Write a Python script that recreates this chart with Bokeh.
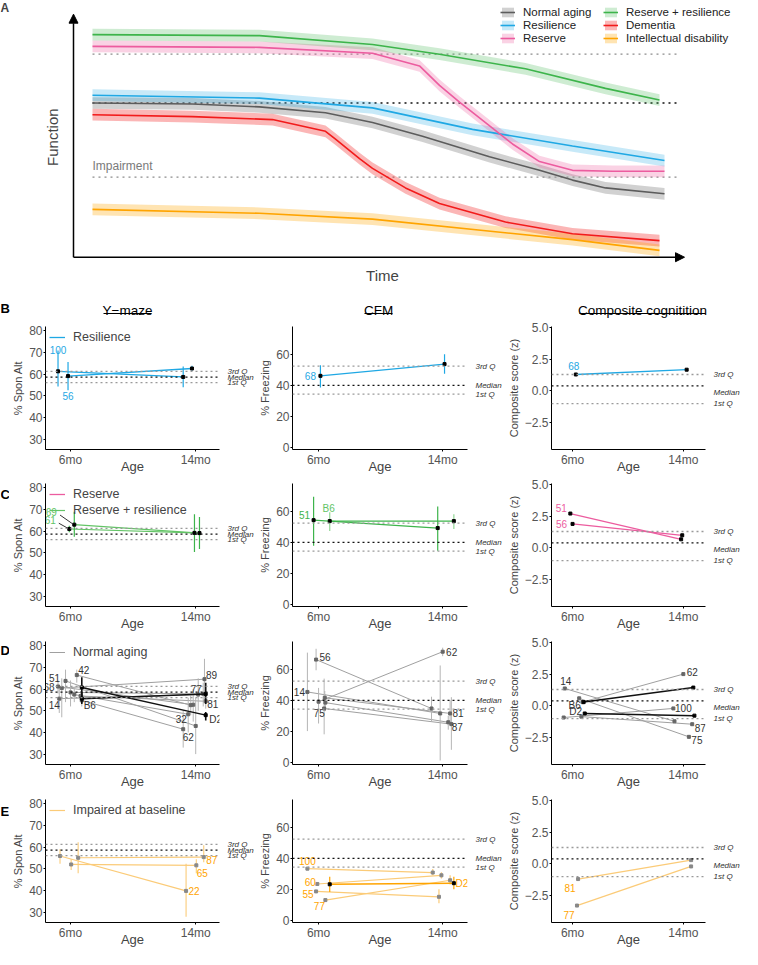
import math
from bokeh.plotting import figure
from bokeh.models import (Range1d, FixedTicker, Label, Arrow, NormalHead, Legend,
                          LegendItem, ColumnDataSource, Span, LinearAxis, Spacer)
from bokeh.layouts import column, row
from bokeh.core.properties import value
from bokeh.embed import file_html
from bokeh.resources import INLINE

FONT = "Liberation Sans"

# ---------------- Panel A: schematic trajectories (time px, function px) ----------------
A_NORMAL_T = [19, 119, 186, 252, 299, 349, 416, 466, 499, 532, 591]
A_NORMAL_F = [158, 157, 154, 148, 138, 124, 103, 89, 79, 71, 65]
A_RESIL_T = [19, 186, 299, 399, 499, 591]
A_RESIL_F = [166, 163, 153, 131, 114, 99]
A_RESERVE_T = [19, 186, 299, 346, 366, 386, 412, 439, 466, 499, 539, 591]
A_RESERVE_F = [216, 215, 209, 196, 176, 159, 138, 116, 98, 89, 88, 88]
A_RR_T = [19, 186, 299, 366, 452, 532, 586]
A_RR_F = [228, 227, 218, 208, 193, 173, 161]
A_DEM_T = [19, 119, 199, 252, 262, 286, 299, 332, 366, 432, 499, 586]
A_DEM_F = [146, 144, 141, 129, 121, 101, 91, 71, 55, 36, 24, 17]
A_ID_T = [19, 186, 299, 499, 586]
A_ID_F = [49, 45, 39, 18, 7]
A_LEVELS = [208, 158, 82]          # upper, middle (median), impairment
A_LEVEL_COLORS = ["#8c8c8c", "#111111", "#8c8c8c"]

# ---------------- Quartile reference values ----------------
YM_Q = [56.1, 58.6, 61.3]     # 1st Q, Median, 3rd Q
CFM_Q = [34.3, 40.0, 52.4]
COMP_Q = [-1.0, 0.4, 1.3]
Q_NAMES = ["1st Q", "Median", "3rd Q"]

# ---------------- B: Resilience ----------------
B_YM_ID = ["100", "56"]
B_YM_6 = [61.3, 59.1]
B_YM_14 = [58.7, 62.6]
B_YM_E6 = [(54.3, 70.9), (52.6, 65.6)]
B_YM_E14 = [(54.0, 63.5), (61.7, 63.9)]

B_CFM_ID = ["68"]
B_CFM_6 = [46.1]
B_CFM_14 = [53.7]
B_CFM_E6 = [(38.5, 53.0)]
B_CFM_E14 = [(47.4, 60.0)]

B_CMP_ID = ["68"]
B_CMP_6 = [1.30]
B_CMP_14 = [1.68]

# ---------------- C: Reserve / Reserve + resilience ----------------
C_YM_ID = ["61", "69"]
C_YM_6 = [61.0, 63.0]
C_YM_14 = [59.2, 59.1]
C_YM_E6 = [(59.5, 62.5), (57.4, 69.0)]
C_YM_E14 = [(50.4, 67.8), (51.7, 66.5)]

C_CFM_ID = ["51", "B6"]
C_CFM_6 = [54.3, 53.7]
C_CFM_14 = [49.2, 53.7]
C_CFM_E6 = [(37.8, 69.5), (47.3, 59.4)]
C_CFM_E14 = [(34.6, 63.2), (48.6, 58.1)]

C_CMP_ID = ["51", "56"]
C_CMP_6 = [2.72, 1.90]
C_CMP_14 = [0.68, 1.00]

# ---------------- D: Normal aging ----------------
D_YM_ID = ["68", "51", "42", "14", "89", "77", "81", "32", "62"]
D_YM_6 = [61.2, 63.8, 66.5, 55.6, 60.5, 58.5, 56.8, 57.5, 54.8]
D_YM_14 = [52.8, 43.0, 52.6, 57.5, 64.6, 57.8, 54.4, 48.4, 41.5]
D_YM_E6 = [(58, 64), (54, 69), (63, 69), (49, 62), (47, 65), (52, 64), (55, 59), (54, 61), (52, 58)]
D_YM_E14 = [(45, 60), (30, 56), (48, 57), (50, 65), (55, 74), (52, 63), (51, 58), (40, 56), (33, 50)]
D_YM_MEAN_ID = ["B6", "D2"]
D_YM_MEAN_6 = [55.6, 60.8]
D_YM_MEAN_14 = [57.8, 48.0]
D_YM_MEAN_E6 = [(53.1, 58.6), (54.0, 65.5)]
D_YM_MEAN_E14 = [(53.1, 62.9), (45.5, 49.5)]

D_CFM_ID = ["56", "14", "62", "75", "81", "87"]
D_CFM_6 = [66.3, 45.4, 39.1, 34.7, 41.6, 38.5]
D_CFM_14 = [34.7, 31.5, 71.4, 24.6, 31.5, 25.8]
D_CFM_E6 = [(59.4, 73.3), (20.1, 70.8), (25, 48), (18, 54), (36, 46), (33, 44)]
D_CFM_E14 = [(26.5, 42.3), (1.1, 62.5), (68.5, 74), (8, 42), (24, 40), (21, 30)]

D_CMP_ID = ["14", "62", "100", "87", "75"]
D_CMP_6 = [1.38, 0.30, -0.92, -0.85, 0.60]
D_CMP_14 = [-1.22, 2.52, -0.20, -1.45, -2.45]
D_CMP_MEAN_ID = ["B6", "D2"]
D_CMP_MEAN_6 = [0.30, -0.60]
D_CMP_MEAN_14 = [1.45, -0.77]

# ---------------- E: Impaired at baseline ----------------
E_YM_ID = ["22", "65", "87"]
E_YM_6 = [55.9, 52.0, 55.1]
E_YM_14 = [39.8, 51.6, 55.4]
E_YM_E6 = [(52.3, 59.0), (49.4, 54.4), (48.0, 62.3)]
E_YM_E14 = [(27.8, 52.3), (48.0, 54.4), (53.0, 60.9)]

E_CFM_ID = ["100", "60", "55", "77"]
E_CFM_6 = [33.3, 23.4, 18.6, 13.0]
E_CFM_14 = [30.8, 29.0, 15.1, 25.8]
E_CFM_E14 = [(29, 33), (27, 31), (11, 20), (23, 29)]
E_CFM_MEAN_ID = ["D2"]
E_CFM_MEAN_6 = [23.2]
E_CFM_MEAN_14 = [23.9]
E_CFM_MEAN_E6 = [(18.2, 28.1)]
E_CFM_MEAN_E14 = [(20.0, 28.0)]

E_CMP_ID = ["81", "77"]
E_CMP_6 = [-1.2, -3.3]
E_CMP_14 = [0.30, -0.20]

# ---------------- titles / letters ----------------
COL_TITLES = ["Y\u2212maze", "CFM", "Composite cognitition"]

# ---------------- colours ----------------
BLUE = "#1FA8E4"
PINK = "#EC5C9F"
GREEN = "#3DB44B"
GREEN_L = "#63C466"
RED = "#F21B1B"
ORANGE = "#FFA400"
ORANGE_L = "#FBCB78"
GRAY_D = "#5c5c5c"
GRAY_L = "#a0a0a0"

# =====================================================================
# Panel A (frame covers the whole figure; units are reference pixels)
# =====================================================================
A_H = 286
pA = figure(width=742, height=A_H, x_range=Range1d(-73, 669), y_range=Range1d(-30, 263),
            output_backend="svg", toolbar_location=None,
            min_border_left=0, min_border_right=0, min_border_top=0, min_border_bottom=0)
pA.axis.visible = False
pA.grid.visible = False
pA.outline_line_color = None

HALF = 6
a_series = [
    ("Normal aging", A_NORMAL_T, A_NORMAL_F, GRAY_D, "#9a9a9a", 0.45),
    ("Resilience", A_RESIL_T, A_RESIL_F, BLUE, BLUE, 0.25),
    ("Reserve", A_RESERVE_T, A_RESERVE_F, PINK, PINK, 0.28),
    ("Reserve + resilience", A_RR_T, A_RR_F, GREEN, GREEN, 0.25),
    ("Dementia", A_DEM_T, A_DEM_F, RED, RED, 0.32),
    ("Intellectual disability", A_ID_T, A_ID_F, ORANGE, ORANGE, 0.3),
]
for lvl, col in zip(A_LEVELS, A_LEVEL_COLORS):
    pA.segment(x0=[A_NORMAL_T[0]], y0=[lvl], x1=[606], y1=[lvl], line_color=col,
               line_width=1.3, line_dash="2 4")

bands = {}
for name, t, f, lc, bc, ba in a_series:
    bands[name] = pA.varea(x=t, y1=[v - HALF for v in f], y2=[v + HALF for v in f],
                           fill_color=bc, fill_alpha=ba)
lines = {}
for name, t, f, lc, bc, ba in a_series:
    lines[name] = pA.line(x=t, y=f, line_color=lc, line_width=1.6)

pA.add_layout(Label(x=A_NORMAL_T[0], y=A_LEVELS[2] + 4, text="Impairment", text_font=FONT,
                    text_font_size="12px", text_color="#7a7a7a", text_baseline="bottom"))
pA.add_layout(Arrow(end=NormalHead(size=9, fill_color="black", line_color="black"),
                    x_start=0, y_start=0, x_end=0, y_end=249, line_width=1.5))
pA.add_layout(Arrow(end=NormalHead(size=9, fill_color="black", line_color="black"),
                    x_start=0, y_start=0, x_end=611, y_end=0, line_width=1.5))
pA.add_layout(Label(x=-21, y=123, text="Function", angle=math.pi / 2, text_font=FONT,
                    text_font_size="15px", text_align="center", text_baseline="middle"))
pA.add_layout(Label(x=309, y=-19, text="Time", text_font=FONT, text_font_size="15px",
                    text_align="center", text_baseline="middle"))
pA.add_layout(Label(x=-73, y=262, text="A", text_font=FONT, text_font_style="bold",
                    text_font_size="12px", text_baseline="top"))

legA = Legend(items=[LegendItem(label=n, renderers=[bands[n], lines[n]]) for n, *_ in a_series],
              location=(500, A_H - 44), orientation="vertical", nrows=3,
              label_text_font=FONT, label_text_font_size="11.5px", label_text_color="#222222",
              label_width=79, glyph_width=15, glyph_height=12, label_standoff=8, spacing=1,
              padding=0, margin=0, border_line_alpha=0, background_fill_alpha=0)
pA.add_layout(legA)

# =====================================================================
# Column-title strip (units: pixels from the strip's left / bottom)
# =====================================================================
STRIP_H = 32
pT = figure(width=742, height=STRIP_H, x_range=Range1d(0, 742), y_range=Range1d(0, STRIP_H),
            output_backend="svg", toolbar_location=None,
            min_border_left=0, min_border_right=0, min_border_top=0, min_border_bottom=0)
pT.axis.visible = False
pT.grid.visible = False
pT.outline_line_color = None
title_x = [127, 378, 642]
title_w = [48, 28, 126]
pT.text(x=title_x, y=[8, 8, 8], text=COL_TITLES, text_font=value(FONT), text_font_size="13.5px",
        text_align="center", text_baseline="alphabetic")
pT.segment(x0=[x - w / 2 for x, w in zip(title_x, title_w)], y0=[5] * 3,
           x1=[x + w / 2 for x, w in zip(title_x, title_w)], y1=[5] * 3,
           line_color="black", line_width=1)
pT.text(x=[0], y=[10], text=["B"], text_font=value(FONT), text_font_style="bold",
        text_font_size="13px", text_baseline="middle")

# =====================================================================
# Small panels
# =====================================================================
FRAME_H = 128
BOTTOM = 22
LETTER_W = 9
COLS = {
    "ym": dict(w=247, bl=33, br=31, xr=(0.80, 2.19), yr=(25.2, 82.0), ticks=[30, 40, 50, 60, 70, 80],
               tick_labels=None, ylab="% Spon Alt", q=YM_Q, qlab_shift=[0, 0, 0]),
    "cfm": dict(w=248, bl=35, br=29, xr=(0.79, 2.20), yr=(-1.5, 78.0), ticks=[0, 20, 40, 60],
                tick_labels=None, ylab="% Freezing", q=CFM_Q, qlab_shift=[0, 0, 0]),
    "cmp": dict(w=238, bl=44, br=28, xr=(0.81, 2.20), yr=(-4.64, 5.1), ticks=[-2.5, 0, 2.5, 5],
                tick_labels={-2.5: "\u22122.5", 0: "0.0", 2.5: "2.5", 5: "5.0"},
                ylab="Composite score (z)", q=COMP_Q, qlab_shift=[0, -0.55, 0]),
}


def fw(c):
    return c["w"] - c["bl"] - c["br"]


def make_panel(key, top):
    c = COLS[key]
    p = figure(width=c["w"], height=top + FRAME_H + BOTTOM, x_range=Range1d(*c["xr"]),
               y_range=Range1d(*c["yr"]), output_backend="svg", toolbar_location=None,
               min_border_left=c["bl"], min_border_right=c["br"], min_border_top=top,
               min_border_bottom=BOTTOM)
    p.grid.visible = False
    p.outline_line_color = None
    p.xaxis.ticker = FixedTicker(ticks=[1, 2])
    p.xaxis.major_label_overrides = {1: "6mo", 2: "14mo"}
    p.yaxis.ticker = FixedTicker(ticks=c["ticks"])
    if c["tick_labels"]:
        p.yaxis.major_label_overrides = c["tick_labels"]
    for ax in (p.xaxis[0], p.yaxis[0]):
        ax.axis_line_color = "black"
        ax.axis_line_width = 1
        ax.major_tick_out = 2
        ax.major_tick_in = 0
        ax.minor_tick_out = 0
        ax.minor_tick_in = 0
        ax.major_label_text_font = FONT
        ax.major_label_text_font_size = "12px"
        ax.major_label_text_color = "#555555"
        ax.major_label_standoff = 1
    p.yaxis.axis_label = c["ylab"]
    p.yaxis.axis_label_text_font = FONT
    p.yaxis.axis_label_text_font_size = "11px"
    p.yaxis.axis_label_text_font_style = "normal"
    p.yaxis.axis_label_standoff = 2
    p.xaxis.axis_label = "Age"
    p.xaxis.axis_label_text_font = FONT
    p.xaxis.axis_label_text_font_size = "13px"
    p.xaxis.axis_label_text_font_style = "normal"
    p.xaxis.axis_label_standoff = -11
    # quartile reference lines + their names on a right-hand axis
    for qv, qn in zip(c["q"], Q_NAMES):
        col = "#111111" if qn == "Median" else "#9a9a9a"
        p.add_layout(Span(location=qv, dimension="width", line_color=col, line_width=1.3,
                          line_dash="2 3"))
    qpos = [qv + sh for qv, sh in zip(c["q"], c["qlab_shift"])]
    qax = LinearAxis(ticker=FixedTicker(ticks=qpos),
                     major_label_overrides={qp: qn for qp, qn in zip(qpos, Q_NAMES)},
                     axis_line_color=None, major_tick_line_color=None, minor_tick_line_color=None,
                     major_label_standoff=2, major_label_text_font=FONT,
                     major_label_text_font_style="italic", major_label_text_font_size="8px",
                     major_label_text_color="#333333")
    p.add_layout(qax, "right")
    return p, c


def draw_group(p, ids, v6, v14, dx6, dx14, lab_at, lab_off, line_color, e6=None, e14=None,
               line_alpha=1.0, line_width=1.2, err_color=None, err_alpha=1.0, err_width=1.2,
               pt_color="black", lab_color=None):
    x6 = [1 + d for d in dx6]
    x14 = [2 + d for d in dx14]
    r = p.segment(x0=x6, y0=v6, x1=x14, y1=v14, line_color=line_color, line_alpha=line_alpha,
                  line_width=line_width)
    ex, elo, ehi = [], [], []
    for xs, es in ((x6, e6), (x14, e14)):
        if es is None:
            continue
        for x, e in zip(xs, es):
            if e is None:
                continue
            ex.append(x)
            elo.append(e[0])
            ehi.append(e[1])
    if ex:
        p.segment(x0=ex, y0=elo, x1=ex, y1=ehi, line_color=err_color or line_color,
                  line_alpha=err_alpha, line_width=err_width)
    p.scatter(x=x6 + x14, y=v6 + v14, marker="square", size=3, color=pt_color)
    lx = [x6[i] if lab_at[i] == 0 else x14[i] for i in range(len(ids))]
    ly = [v6[i] if lab_at[i] == 0 else v14[i] for i in range(len(ids))]
    src = ColumnDataSource(dict(x=lx, y=ly, t=ids, dx=[o[0] for o in lab_off],
                                dy=[o[1] for o in lab_off]))
    p.text(x="x", y="y", text="t", x_offset="dx", y_offset="dy", source=src,
           text_color=lab_color or line_color, text_font=value(FONT), text_font_size="10px",
           text_align="center", text_baseline="middle")
    return r


def add_legend(p, entries):
    leg = Legend(items=[LegendItem(label=l, renderers=[r]) for l, r in entries],
                 location="top_left", label_text_font=FONT, label_text_font_size="12.5px",
                 glyph_width=16, glyph_height=12, label_standoff=8, spacing=2, padding=1, margin=3,
                 border_line_alpha=0, background_fill_alpha=0)
    p.add_layout(leg)


def letter_fig(h, txt, from_top):
    if txt is None:
        return Spacer(width=LETTER_W, height=h)
    f = figure(width=LETTER_W, height=h, x_range=Range1d(0, LETTER_W), y_range=Range1d(0, h),
               output_backend="svg", toolbar_location=None,
               min_border_left=0, min_border_right=0, min_border_top=0, min_border_bottom=0)
    f.axis.visible = False
    f.grid.visible = False
    f.outline_line_color = None
    f.text(x=[0], y=[h - from_top], text=[txt], text_font=value(FONT), text_font_style="bold",
           text_font_size="13px", text_baseline="middle")
    return f


# ---------------- Row B ----------------
TOP_B = 8
bY, c = make_panel("ym", TOP_B)
r = draw_group(bY, B_YM_ID, B_YM_6, B_YM_14, [-0.10, -0.02], [-0.10, -0.03], [0, 0],
               [(0, -21), (0, 20)], BLUE, B_YM_E6, B_YM_E14, line_width=1.3)
add_legend(bY, [("Resilience", r)])

bC, c = make_panel("cfm", TOP_B)
draw_group(bC, B_CFM_ID, B_CFM_6, B_CFM_14, [0.015], [0.015], [0], [(-10, 0)], BLUE,
           B_CFM_E6, B_CFM_E14, line_width=1.3)

bX, c = make_panel("cmp", TOP_B)
draw_group(bX, B_CMP_ID, B_CMP_6, B_CMP_14, [0.03], [0.03], [0], [(-2, -8)], BLUE, line_width=1.3)

# ---------------- Row C ----------------
TOP_C = 7
cY, c = make_panel("ym", TOP_C)
r = draw_group(cY, C_YM_ID, C_YM_6, C_YM_14, [-0.01, 0.03], [-0.01, 0.03], [0, 0],
               [(-19, -9), (-23, -13)], GREEN_L, C_YM_E6, C_YM_E14, err_color=GREEN, lab_color=GREEN_L)
sx = (c["xr"][1] - c["xr"][0]) / fw(c)
sy = (c["yr"][1] - c["yr"][0]) / FRAME_H
for (ox, oy), dxi, vy in zip([(-19, -9), (-23, -13)], [-0.01, 0.03], C_YM_6):
    px0 = 1 + dxi
    cY.segment(x0=[px0 - 2 * sx], y0=[vy + 1 * sy], x1=[px0 + (ox + 8) * sx],
               y1=[vy - (oy + 3) * sy], line_color="black", line_width=0.8)
pink_proxy = cY.line(x=[float("nan")], y=[float("nan")], line_color=PINK, line_width=1.3)
add_legend(cY, [("Reserve", pink_proxy), ("Reserve + resilience", r)])

cC, c = make_panel("cfm", TOP_C)
draw_group(cC, C_CFM_ID[:1], C_CFM_6[:1], C_CFM_14[:1], [-0.04], [-0.04], [0], [(-9, -5)], GREEN,
           C_CFM_E6[:1], C_CFM_E14[:1])
draw_group(cC, C_CFM_ID[1:], C_CFM_6[1:], C_CFM_14[1:], [0.09], [0.09], [0], [(-1, -13)], GREEN,
           C_CFM_E6[1:], C_CFM_E14[1:], err_color=GREEN_L, err_alpha=0.7, lab_color=GREEN_L)

cX, c = make_panel("cmp", TOP_C)
draw_group(cX, C_CMP_ID, C_CMP_6, C_CMP_14, [-0.02, 0.0], [-0.02, -0.01], [0, 0],
           [(-9, -6), (-11, 0)], PINK, line_width=1.3)

# ---------------- Row D ----------------
TOP_D = 8
dY, c = make_panel("ym", TOP_D)
r = draw_group(dY, D_YM_ID, D_YM_6, D_YM_14,
               [-0.10, -0.04, 0.05, -0.09, -0.07, 0.00, 0.08, 0.03, 0.09],
               [-0.02, 0.00, -0.04, 0.02, 0.07, 0.06, 0.08, -0.06, -0.10],
               [0, 0, 0, 0, 1, 1, 1, 1, 1],
               [(-9, 0), (-11, -3), (7, -5), (-5, 6), (7, -4), (-7, -5), (7, 3), (-7, 5), (5, 8)],
               GRAY_L, D_YM_E6, D_YM_E14, line_width=1.0, err_color="#b5b5b5", err_width=1.0,
               pt_color="#666666", lab_color="#333333")
draw_group(dY, D_YM_MEAN_ID, D_YM_MEAN_6, D_YM_MEAN_14, [0.09, 0.09], [0.08, 0.08], [0, 1],
           [(8, 7), (10, 4)], "#111111", D_YM_MEAN_E6, D_YM_MEAN_E14, line_width=1.5,
           err_width=1.6, lab_color="#333333")
add_legend(dY, [("Normal aging", r)])

dC, c = make_panel("cfm", TOP_D)
draw_group(dC, D_CFM_ID, D_CFM_6, D_CFM_14, [-0.02, -0.09, 0.0, 0.045, 0.05, 0.055],
           [-0.09, -0.02, 0.0, 0.07, 0.06, 0.045], [0, 0, 1, 0, 1, 1],
           [(9, -3), (-8, 0), (9, 0), (-5, 5), (8, 0), (9, 5)], GRAY_L, D_CFM_E6, D_CFM_E14,
           line_width=1.0, err_color="#b5b5b5", err_width=1.0, pt_color="#666666", lab_color="#333333")

dX, c = make_panel("cmp", TOP_D)
draw_group(dX, D_CMP_ID, D_CMP_6, D_CMP_14, [-0.07, 0.09, -0.08, 0.08, 0.06],
           [-0.08, 0.0, -0.09, 0.08, 0.05], [0, 1, 1, 1, 1],
           [(1, -7), (9, -2), (10, 0), (8, 4), (8, 3)], GRAY_L, line_width=1.0,
           pt_color="#666666", lab_color="#333333")
draw_group(dX, D_CMP_MEAN_ID, D_CMP_MEAN_6, D_CMP_MEAN_14, [0.10, 0.11], [0.09, 0.10], [0, 0],
           [(-9, 3), (-9, -2)], "#111111", line_width=1.5, lab_color="#333333")

# ---------------- Row E ----------------
TOP_E = 8
eY, c = make_panel("ym", TOP_E)
r = draw_group(eY, E_YM_ID, E_YM_6, E_YM_14, [-0.084, 0.005, 0.061], [-0.077, 0.005, 0.064],
               [1, 1, 1], [(8, 0), (6, 8), (8, 3)], ORANGE_L, E_YM_E6, E_YM_E14, line_width=1.2,
               err_alpha=0.9, pt_color="#888888", lab_color=ORANGE)
add_legend(eY, [("Impaired at baseline", r)])

eC, c = make_panel("cfm", TOP_E)
draw_group(eC, E_CFM_ID, E_CFM_6, E_CFM_14, [-0.09, -0.01, -0.02, 0.055], [-0.08, -0.01, -0.03, 0.06],
           [0, 0, 0, 0], [(0, -8), (-7, -2), (-8, 3), (-6, 6)], ORANGE_L, None, E_CFM_E14,
           line_width=1.2, pt_color="#888888", lab_color=ORANGE)
draw_group(eC, E_CFM_MEAN_ID, E_CFM_MEAN_6, E_CFM_MEAN_14, [0.09], [0.09], [1], [(8, 0)], ORANGE,
           E_CFM_MEAN_E6, E_CFM_MEAN_E14, line_width=1.6, lab_color=ORANGE)

eX, c = make_panel("cmp", TOP_E)
draw_group(eX, E_CMP_ID, E_CMP_6, E_CMP_14, [0.05, 0.04], [0.07, 0.07], [0, 0],
           [(-8, 9), (-8, 9)], ORANGE_L, line_width=1.2, pt_color="#888888", lab_color=ORANGE)

H = FRAME_H + BOTTOM
layout = column(
    pA, pT,
    row(letter_fig(TOP_B + H, None, 0), bY, bC, bX),
    row(letter_fig(TOP_C + H, "C", 14), cY, cC, cX),
    row(letter_fig(TOP_D + H, "D", 11), dY, dC, dX),
    row(letter_fig(TOP_E + H, "E", 15), eY, eC, eX),
)
open("out.html", "w").write(file_html(layout, INLINE))
